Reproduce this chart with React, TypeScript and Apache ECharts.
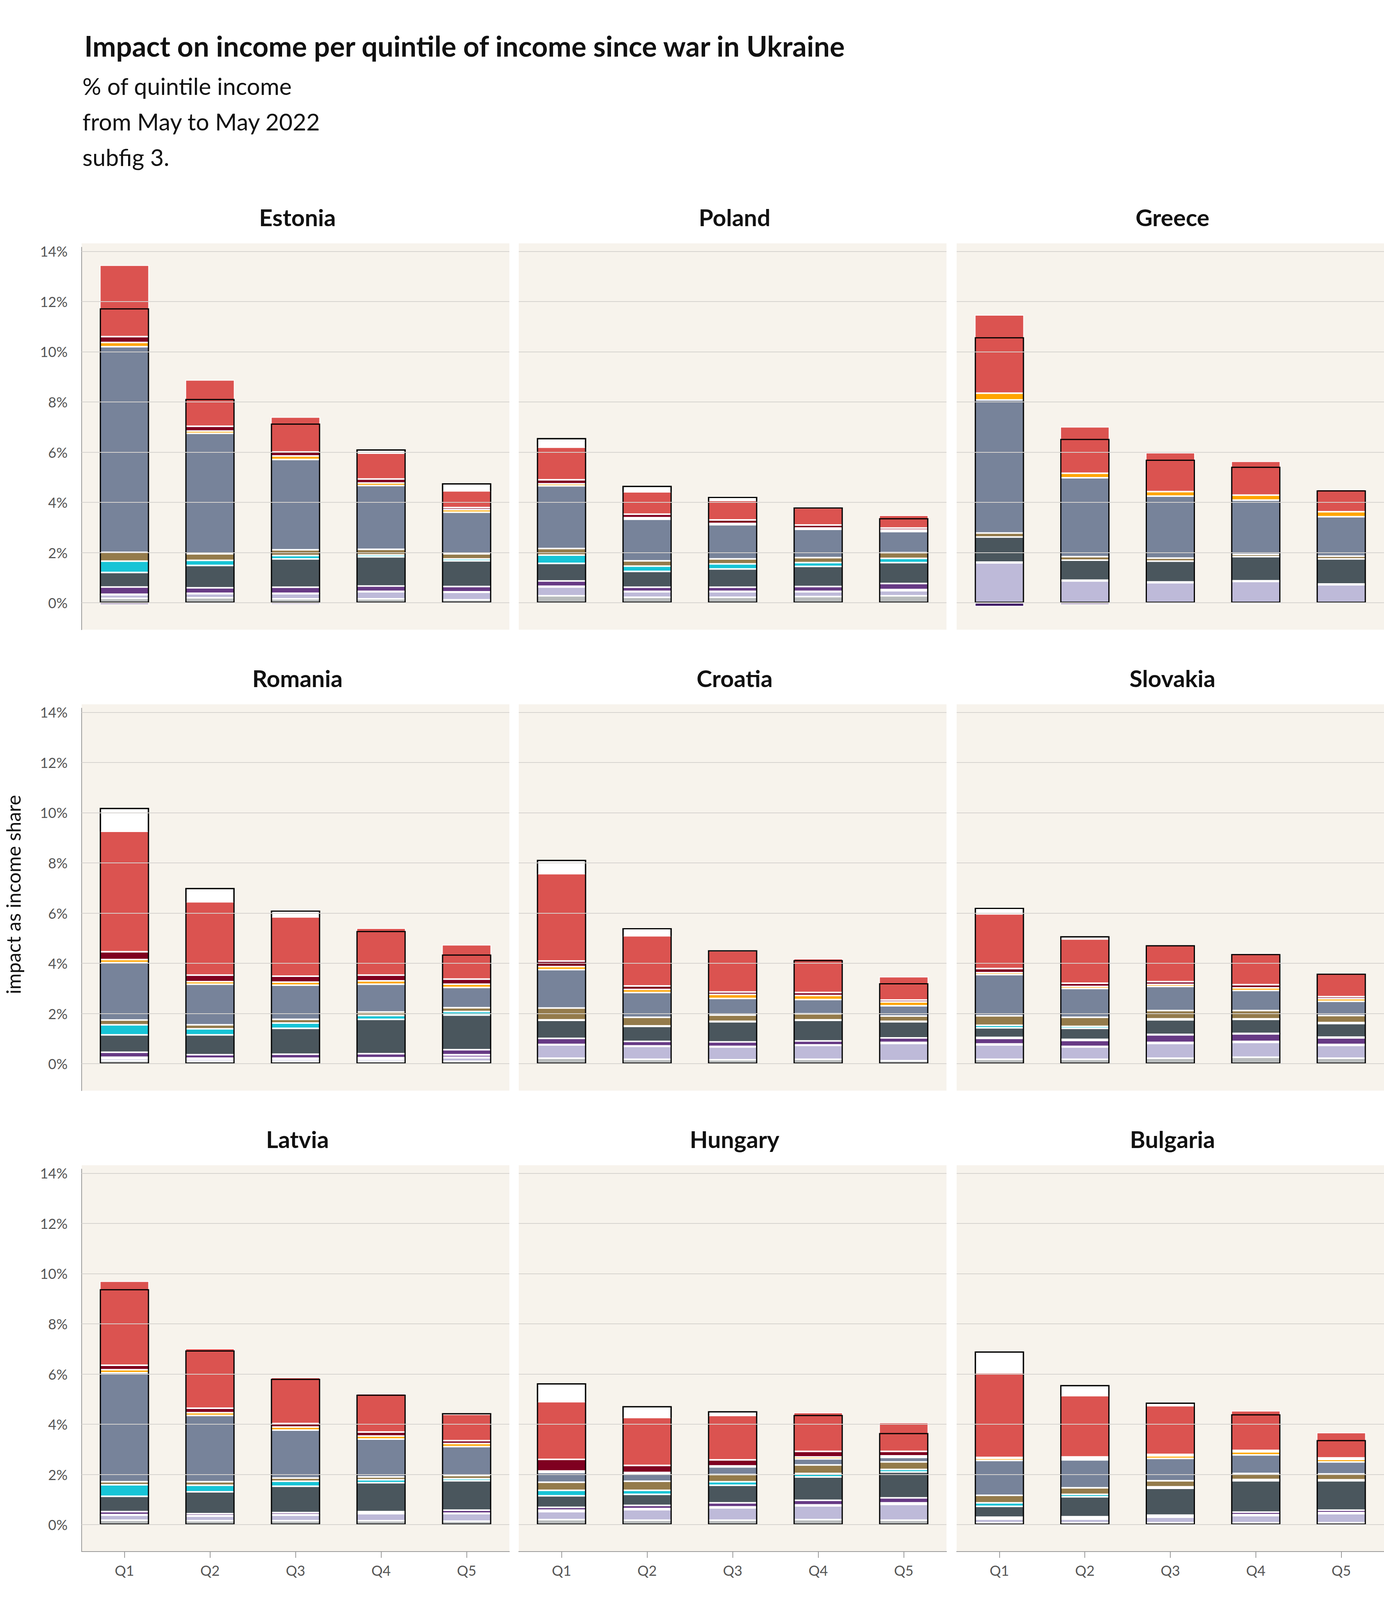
import { useEffect, useRef } from 'react';
import * as echarts from 'echarts';

const quintiles = ['Q1', 'Q2', 'Q3', 'Q4', 'Q5'];
const yTicks = [0, 2, 4, 6, 8, 10, 12, 14];

const categories = [
  '01: Food', '02: Alcool and Tobacco', '03: Clothing and footwear', '04: Sheltering',
  '05: Home equipment', '06: Health', '07: Transport', '08: Communications',
  '09: Recreation and culture', '10: Education', '11: Restaurants and hotels', '12: Others',
];
const colors = [
  '#db5350', '#7f0020', '#ffa500', '#77839a', '#947b4b', '#17c4d6',
  '#4a565d', '#3d1463', '#673a85', '#b497c9', '#bebad9', '#b8bbbc',
];

const countries = ['Estonia', 'Poland', 'Greece', 'Romania', 'Croatia', 'Slovakia', 'Latvia', 'Hungary', 'Bulgaria'];

// rows in category order 01..12, columns Q1..Q5
const estonia = [
  [2.85, 1.85, 1.39, 1.03, 0.67], [0.23, 0.19, 0.16, 0.16, 0.08], [0.17, 0.09, 0.14, 0.10, 0.10],
  [8.19, 4.80, 3.60, 2.54, 1.66], [0.35, 0.26, 0.23, 0.22, 0.20], [0.45, 0.20, 0.13, 0.08, 0.08],
  [0.58, 0.89, 1.13, 1.16, 1.02], [-0.08, -0.05, -0.07, -0.02, -0.01], [0.29, 0.22, 0.24, 0.21, 0.21],
  [0.02, 0.02, 0.02, 0.02, 0.02], [0.14, 0.16, 0.20, 0.28, 0.30], [0.18, 0.20, 0.16, 0.16, 0.12],
];
const estoniaTotal = [11.73, 8.12, 7.14, 6.11, 4.76];

const poland = [
  [1.30, 0.89, 0.78, 0.68, 0.51], [0.16, 0.14, 0.14, 0.12, 0.08], [0.08, 0.06, 0.05, 0.05, 0.06],
  [2.50, 1.66, 1.36, 1.13, 0.84], [0.26, 0.21, 0.20, 0.20, 0.23], [0.33, 0.21, 0.20, 0.15, 0.17],
  [0.70, 0.63, 0.73, 0.80, 0.83], [-0.01, -0.01, -0.01, -0.01, -0.01], [0.21, 0.16, 0.16, 0.19, 0.24],
  [0.03, 0.02, 0.02, 0.02, 0.05], [0.35, 0.22, 0.22, 0.19, 0.20], [0.28, 0.22, 0.22, 0.25, 0.28],
];
const polandTotal = [6.56, 4.66, 4.22, 3.80, 3.37];

const greece = [
  [3.12, 1.85, 1.55, 1.35, 0.89], [0, 0, 0, 0, 0], [0.27, 0.18, 0.18, 0.20, 0.20],
  [5.30, 3.14, 2.47, 2.16, 1.57], [0.16, 0.14, 0.12, 0.09, 0.11], [0, 0, 0, 0, 0],
  [1.00, 0.80, 0.83, 0.96, 1.00], [-0.15, -0.08, -0.06, -0.06, -0.03], [0.02, 0.02, 0.02, 0.02, 0.02],
  [0.01, 0.01, 0.01, 0.01, 0.01], [1.57, 0.85, 0.78, 0.83, 0.70], [0.02, 0.02, 0.02, 0.02, 0.02],
];
const greeceTotal = [10.58, 6.53, 5.70, 5.42, 4.48];

const romania = [
  [4.80, 2.92, 2.36, 1.87, 1.37], [0.31, 0.26, 0.24, 0.23, 0.20], [0.12, 0.10, 0.12, 0.13, 0.13],
  [2.29, 1.62, 1.36, 1.11, 0.81], [0.19, 0.16, 0.15, 0.14, 0.15], [0.40, 0.24, 0.21, 0.15, 0.14],
  [0.69, 0.79, 1.03, 1.37, 1.38], [0, 0, 0, 0, 0], [0.20, 0.14, 0.16, 0.16, 0.20],
  [0.06, 0.04, 0.04, 0.06, 0.12], [0.08, 0.08, 0.08, 0.08, 0.14], [0.12, 0.10, 0.10, 0.10, 0.10],
];
const romaniaTotal = [10.19, 7.00, 6.10, 5.29, 4.35];

const croatia = [
  [3.48, 2.00, 1.64, 1.35, 0.93], [0.22, 0.14, 0.10, 0.12, 0.08], [0.12, 0.12, 0.16, 0.16, 0.15],
  [1.53, 0.99, 0.66, 0.57, 0.41], [0.47, 0.34, 0.25, 0.24, 0.21], [0.02, 0.02, 0.02, 0.02, 0.02],
  [0.72, 0.60, 0.80, 0.82, 0.64], [0, 0, 0, 0, 0], [0.24, 0.18, 0.18, 0.16, 0.18],
  [0.02, 0.02, 0.02, 0.02, 0.04], [0.53, 0.51, 0.51, 0.55, 0.69], [0.22, 0.18, 0.16, 0.18, 0.12],
];
const croatiaTotal = [8.12, 5.40, 4.52, 4.13, 3.21];

const slovakia = [
  [2.18, 1.76, 1.45, 1.25, 0.93], [0.16, 0.13, 0.11, 0.13, 0.08], [0.08, 0.08, 0.08, 0.10, 0.10],
  [1.64, 1.15, 0.96, 0.80, 0.57], [0.38, 0.36, 0.33, 0.33, 0.28], [0.10, 0.08, 0.04, 0.02, 0.04],
  [0.38, 0.44, 0.58, 0.56, 0.54], [0.04, 0.04, 0.02, 0.02, 0.03], [0.22, 0.24, 0.30, 0.30, 0.26],
  [0.04, 0.02, 0.04, 0.04, 0.04], [0.57, 0.49, 0.59, 0.59, 0.51], [0.18, 0.18, 0.22, 0.26, 0.22],
];
const slovakiaTotal = [6.21, 5.08, 4.72, 4.37, 3.59];

const latvia = [
  [3.35, 2.38, 1.84, 1.53, 1.05], [0.18, 0.18, 0.14, 0.16, 0.12], [0.12, 0.11, 0.12, 0.12, 0.12],
  [4.34, 2.64, 1.91, 1.51, 1.15], [0.12, 0.14, 0.13, 0.11, 0.13], [0.46, 0.26, 0.20, 0.12, 0.08],
  [0.61, 0.87, 1.05, 1.15, 1.17], [0, 0, 0, 0, 0], [0.12, 0.08, 0.08, 0.06, 0.12],
  [0.02, 0.02, 0.02, 0.02, 0.02], [0.20, 0.18, 0.22, 0.28, 0.30], [0.18, 0.16, 0.16, 0.16, 0.14],
];
const latviaTotal = [9.38, 6.94, 5.81, 5.18, 4.44];

const hungary = [
  [2.30, 1.91, 1.77, 1.55, 1.15], [0.46, 0.28, 0.24, 0.22, 0.18], [0.06, 0.06, 0.04, 0.08, 0.06],
  [0.39, 0.29, 0.30, 0.24, 0.18], [0.32, 0.36, 0.29, 0.34, 0.30], [0.22, 0.16, 0.14, 0.14, 0.10],
  [0.46, 0.44, 0.70, 0.93, 1.03], [0, 0, 0, 0, 0], [0.11, 0.13, 0.16, 0.18, 0.20],
  [0.06, 0.04, 0.04, 0.04, 0.06], [0.32, 0.42, 0.49, 0.55, 0.63], [0.20, 0.18, 0.18, 0.20, 0.18],
];
const hungaryTotal = [5.63, 4.72, 4.52, 4.37, 3.65];

const bulgaria = [
  [3.37, 2.44, 1.94, 1.58, 1.01], [0.04, 0.06, 0.06, 0.06, 0.06], [0.08, 0.06, 0.10, 0.12, 0.10],
  [1.39, 1.11, 0.89, 0.74, 0.48], [0.30, 0.26, 0.24, 0.24, 0.23], [0.14, 0.10, 0.06, 0.05, 0.04],
  [0.43, 0.79, 1.07, 1.25, 1.17], [-0.06, -0.05, -0.04, -0.04, -0.03], [0.04, 0.06, 0.04, 0.10, 0.10],
  [0.04, 0.04, 0.04, 0.04, 0.04], [0.14, 0.14, 0.22, 0.28, 0.36], [0.08, 0.08, 0.08, 0.08, 0.08],
];
const bulgariaTotal = [6.90, 5.56, 4.86, 4.40, 3.37];

const panelData = [estonia, poland, greece, romania, croatia, slovakia, latvia, hungary, bulgaria];
const panelTotals = [estoniaTotal, polandTotal, greeceTotal, romaniaTotal, croatiaTotal, slovakiaTotal, latviaTotal, hungaryTotal, bulgariaTotal];

const FONT = 'Lato, "Noto Sans", sans-serif';
const panelLefts = [209, 1328, 2449];
const panelWidth = 1095;
const panelTops = [633, 1813, 2993];
const panelHeight = 979;

export default function App() {
  const chartRef = useRef<HTMLDivElement>(null);

  useEffect(() => {
    document.body.style.margin = '0';
    if (!chartRef.current) return;
    const chart = echarts.init(chartRef.current, undefined, { renderer: 'svg' });

    const grids: any[] = [];
    const xAxes: any[] = [];
    const yAxes: any[] = [];
    const series: any[] = [];
    const titles: any[] = [];
    const backgrounds: any[] = [];

    countries.forEach((name, p) => {
      const row = Math.floor(p / 3);
      const col = p % 3;
      const left = panelLefts[col];
      const top = panelTops[row];
      grids.push({ left, top, width: panelWidth, height: panelHeight });
      backgrounds.push({
        type: 'rect', z: -10,
        shape: { x: left, y: top - 10, width: col === 2 ? 3543 - left : panelWidth, height: panelHeight + 10 },
        style: { fill: '#f7f3ec' },
      });
      titles.push({
        text: name, left: left + panelWidth / 2, top: top - 112, textAlign: 'center',
        textStyle: { fontFamily: FONT, fontSize: 60, fontWeight: 'bold', color: '#111' },
      });
      const bottomRow = row === 2;
      xAxes.push({
        type: 'category', gridIndex: p, data: quintiles,
        axisLine: { show: bottomRow, onZero: false, lineStyle: { color: '#999', width: 2 } },
        axisTick: { show: bottomRow, alignWithLabel: true, length: 16, lineStyle: { color: '#999', width: 2 } },
        axisLabel: { show: bottomRow, fontFamily: FONT, fontSize: 36, color: '#555', margin: 30 },
        splitLine: { show: false },
      });
      yAxes.push({
        type: 'value', gridIndex: p, min: -1.07, max: 14.16,
        axisLine: { show: col === 0, lineStyle: { color: '#999', width: 2 } },
        axisTick: { show: false }, axisLabel: { show: false }, splitLine: { show: false },
      });
      const data = panelData[p];
      const totals = panelTotals[p];
      series.push({
        name: 'total', type: 'bar', xAxisIndex: p, yAxisIndex: p, data: totals,
        barWidth: 126, barGap: '-100%', z: 1,
        itemStyle: { color: '#ffffff', borderColor: '#000', borderWidth: 3 },
        markLine: {
          silent: true, symbol: 'none',
          lineStyle: { color: '#d6d3cf', width: 2, type: 'solid' },
          label: {
            show: col === 0, position: 'start', distance: 36, formatter: (prm: any) => `${prm.value}%`,
            fontFamily: FONT, fontSize: 36, color: '#555',
          },
          data: yTicks.map((v) => ({ yAxis: v })),
        },
      });
      for (let c = 11; c >= 0; c--) {
        series.push({
          name: categories[c], type: 'bar', stack: 'cat' + p, xAxisIndex: p, yAxisIndex: p,
          data: data[c], barWidth: 126, barGap: '-100%', z: 2,
          itemStyle: { color: colors[c], borderColor: '#ffffff', borderWidth: 2 },
        });
      }
      series.push({
        name: 'outline', type: 'bar', xAxisIndex: p, yAxisIndex: p, data: totals,
        barWidth: 126, barGap: '-100%', z: 3,
        itemStyle: { color: 'rgba(0,0,0,0)', borderColor: '#000', borderWidth: 3 },
      });
    });

    titles.push({
      text: 'Impact on income per quintile of income since war in Ukraine',
      left: 211, top: 76,
      textStyle: { fontFamily: FONT, fontSize: 72, fontWeight: 'bold', color: '#111' },
    });

    const legendCols = [categories.slice(0, 4), categories.slice(4, 8), categories.slice(8, 12)];
    const legendX = [868, 1597, 2208];
    const legends = legendCols.map((names, i) => ({
      data: names, orient: 'vertical', left: legendX[i], top: 4144,
      itemWidth: 69, itemHeight: 69, itemGap: 6, icon: 'rect', padding: 0, selectedMode: false,
      textStyle: { fontFamily: FONT, fontSize: 48, color: '#333', padding: [0, 0, 0, 28] },
    }));

    const textStyle = (size: number, extra: any = {}) => ({ fontFamily: FONT, fontSize: size, fill: '#111', ...extra });

    chart.setOption({
      animation: false,
      backgroundColor: '#ffffff',
      title: titles,
      legend: legends,
      grid: grids,
      xAxis: xAxes,
      yAxis: yAxes,
      series,
      graphic: [
        ...backgrounds,
        { type: 'text', left: 211, top: 190, style: { ...textStyle(60), text: '% of quintile income' } },
        { type: 'text', left: 211, top: 281, style: { ...textStyle(60), text: 'from May to May 2022' } },
        { type: 'text', left: 211, top: 372, style: { ...textStyle(60), text: 'subfig 3.' } },
        {
          type: 'text', x: 34, y: 2290, rotation: Math.PI / 2,
          style: { ...textStyle(50), text: 'impact as income share', align: 'center', verticalAlign: 'middle' },
        },
        {
          type: 'text', left: 211, top: 4535,
          style: { ...textStyle(54, { fill: '#444', fontStyle: 'italic' }), text: 'Sources: Eurostat HICP, consumption per quintile (hbs_str_t223), consumtion per cociop (hbs_str_t211),' },
        },
        {
          type: 'text', left: 211, top: 4601,
          style: { ...textStyle(54, { fill: '#444', fontStyle: 'italic' }), text: 'income and expenditure per quintile (icw_res_02)' },
        },
      ],
    });

    return () => chart.dispose();
  }, []);

  return <div ref={chartRef} style={{ width: 3543, height: 4724 }} />;
}
